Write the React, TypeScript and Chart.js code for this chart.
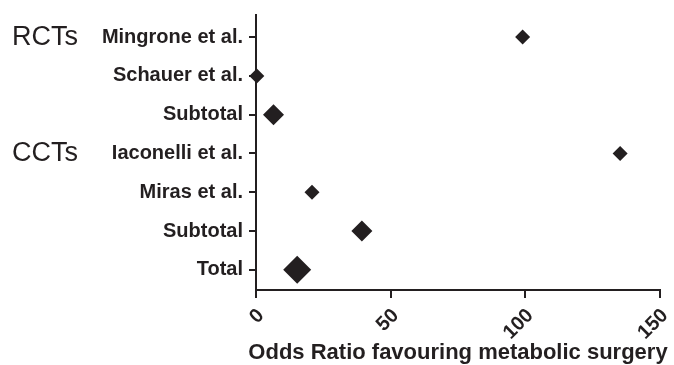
import React, { useEffect, useRef } from "react";
import { Chart, registerables } from "chart.js";

Chart.register(...registerables);

const studies = [
  "Mingrone et al.",
  "Schauer et al.",
  "Subtotal",
  "Iaconelli et al.",
  "Miras et al.",
  "Subtotal",
  "Total",
];
const oddsRatios = [99, 0.3, 6.5, 135.2, 20.8, 39.3, 15.3];
const groupLabels = ["RCTs", "CCTs"];
const groupRows = [0, 3];
const xTickValues = [0, 50, 100, 150];
const markerRadius = [7.5, 7.5, 10.5, 7.5, 7.5, 10.5, 14];
const xTitle = "Odds Ratio favouring metabolic surgery";

const INK = "#231f20";
const FONT = '"Liberation Sans", Arial, Helvetica, sans-serif';

export default function App() {
  const ref = useRef<HTMLCanvasElement | null>(null);

  useEffect(() => {
    document.body.style.margin = "0";
    const canvas = ref.current;
    if (!canvas) return;

    const textPlugin = {
      id: "extraText",
      afterDraw(chart: any) {
        const ctx = chart.ctx;
        const y = chart.scales.y;
        const area = chart.chartArea;
        ctx.save();
        ctx.fillStyle = INK;
        ctx.font = `27px ${FONT}`;
        ctx.textAlign = "left";
        ctx.textBaseline = "middle";
        groupLabels.forEach((g, i) => {
          ctx.fillText(g, 12, y.getPixelForValue(groupRows[i]));
        });
        ctx.font = `bold 22px ${FONT}`;
        ctx.textAlign = "center";
        ctx.textBaseline = "alphabetic";
        ctx.fillText(xTitle, (area.left + area.right) / 2, chart.height - 6);
        ctx.restore();
      },
    };

    const chart = new Chart(canvas, {
      type: "scatter",
      data: {
        datasets: [
          {
            data: oddsRatios.map((v, i) => ({ x: v, y: i })),
            pointStyle: "rectRot",
            pointRadius: markerRadius,
            pointHoverRadius: markerRadius,
            backgroundColor: INK,
            borderColor: INK,
            borderWidth: 0,
          },
        ],
      },
      options: {
        animation: false,
        responsive: false,
        clip: false as any,
        layout: { padding: { top: 15, right: 12, left: 0, bottom: 0 } },
        plugins: {
          legend: { display: false },
          tooltip: { enabled: false },
        },
        scales: {
          x: {
            type: "linear",
            position: "bottom",
            min: 0,
            max: 150,
            afterBuildTicks: (s: any) => {
              s.ticks = xTickValues.map((v) => ({ value: v }));
            },
            afterFit: (s: any) => {
              s.height = 75;
              s.paddingLeft = 0;
              s.paddingRight = 0;
            },
            ticks: {
              color: INK,
              font: { family: FONT, size: 20, weight: "bold" },
              minRotation: 45,
              maxRotation: 45,
              padding: 6,
              labelOffset: 5,
            },
            grid: {
              drawOnChartArea: false,
              drawTicks: true,
              tickLength: 8,
              color: INK,
              lineWidth: 2,
            },
            border: { display: true, color: INK, width: 2 },
            title: { display: false },
          },
          y: {
            type: "linear",
            reverse: true,
            min: -0.57,
            max: 6.52,
            afterBuildTicks: (s: any) => {
              s.ticks = studies.map((_, i) => ({ value: i }));
            },
            afterFit: (s: any) => {
              s.width = 256;
              s.paddingTop = 0;
              s.paddingBottom = 0;
            },
            ticks: {
              color: INK,
              font: { family: FONT, size: 20, weight: "bold" },
              padding: 6,
              callback: (v: any) => studies[Math.round(Number(v))] ?? "",
            },
            grid: {
              drawOnChartArea: false,
              drawTicks: true,
              tickLength: 7,
              color: INK,
              lineWidth: 2,
            },
            border: { display: true, color: INK, width: 2 },
          },
        },
      },
      plugins: [textPlugin],
    });

    return () => chart.destroy();
  }, []);

  return (
    <div style={{ width: 674, height: 365, position: "relative" }}>
      <canvas ref={ref} width={674} height={365} style={{ display: "block" }} />
    </div>
  );
}
